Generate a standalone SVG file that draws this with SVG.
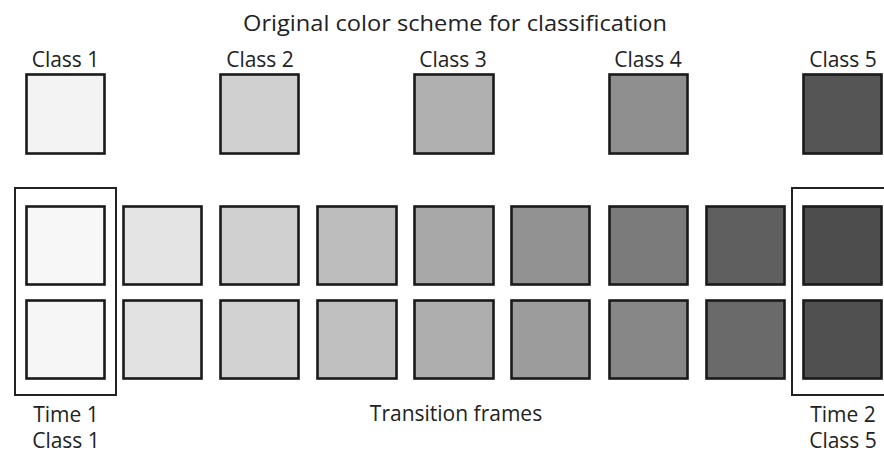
<svg xmlns="http://www.w3.org/2000/svg" width="884" height="454" viewBox="0 0 884 454">
<style>
  text { font-family: "Open Sans", "Liberation Sans", sans-serif; font-size: 21px; fill: #222; text-anchor: middle; }
  .sq { stroke: #1a1a1a; stroke-width: 2.6; }
  .frame { fill: none; stroke: #222; stroke-width: 2; }
</style>
<rect width="884" height="454" fill="#ffffff"/>
<text id="title" x="455" y="31" font-size="24" textLength="424" lengthAdjust="spacingAndGlyphs">Original color scheme for classification</text>

<g id="class1"><text x="65.5" y="67">Class 1</text><rect class="sq" x="26.5" y="74.5" width="78" height="79" fill="#f3f3f3"/></g>
<g id="class2"><text x="260" y="67">Class 2</text><rect class="sq" x="220.5" y="74.5" width="78" height="79" fill="#d0d0d0"/></g>
<g id="class3"><text x="453" y="67">Class 3</text><rect class="sq" x="414.5" y="74.5" width="79" height="79" fill="#b0b0b0"/></g>
<g id="class4"><text x="648" y="67">Class 4</text><rect class="sq" x="609.5" y="74.5" width="78" height="79" fill="#8f8f8f"/></g>
<g id="class5"><text x="843" y="67">Class 5</text><rect class="sq" x="803.5" y="74.5" width="78" height="79" fill="#555555"/></g>

<g id="time1">
  <rect class="frame" x="15" y="188" width="101" height="207"/>
  <rect class="sq" x="26.5" y="206.5" width="78" height="78" fill="#f7f7f7"/>
  <rect class="sq" x="26.5" y="300.5" width="78" height="78" fill="#f6f6f6"/>
  <text x="66" y="422">Time 1</text>
  <text x="66" y="448">Class 1</text>
</g>
<g id="frame2"><rect class="sq" x="123.5" y="206.5" width="78" height="78" fill="#e4e4e4"/><rect class="sq" x="123.5" y="300.5" width="78" height="78" fill="#e2e2e2"/></g>
<g id="frame3"><rect class="sq" x="220.5" y="206.5" width="78" height="78" fill="#d0d0d0"/><rect class="sq" x="220.5" y="300.5" width="78" height="78" fill="#d2d2d2"/></g>
<g id="frame4"><rect class="sq" x="317.5" y="206.5" width="79" height="78" fill="#bdbdbd"/><rect class="sq" x="317.5" y="300.5" width="79" height="78" fill="#c0c0c0"/></g>
<g id="frame5"><rect class="sq" x="414.5" y="206.5" width="79" height="78" fill="#a8a8a8"/><rect class="sq" x="414.5" y="300.5" width="79" height="78" fill="#aeaeae"/></g>
<g id="frame6"><rect class="sq" x="511.5" y="206.5" width="78" height="78" fill="#929292"/><rect class="sq" x="511.5" y="300.5" width="78" height="78" fill="#9c9c9c"/></g>
<g id="frame7"><rect class="sq" x="609.5" y="206.5" width="78" height="78" fill="#7b7b7b"/><rect class="sq" x="609.5" y="300.5" width="78" height="78" fill="#878787"/></g>
<g id="frame8"><rect class="sq" x="706.5" y="206.5" width="78" height="78" fill="#5f5f5f"/><rect class="sq" x="706.5" y="300.5" width="78" height="78" fill="#6a6a6a"/></g>
<g id="time2">
  <rect class="frame" x="792" y="188" width="110" height="207"/>
  <rect class="sq" x="803.5" y="206.5" width="78" height="78" fill="#4d4d4d"/>
  <rect class="sq" x="803.5" y="300.5" width="78" height="78" fill="#505050"/>
  <text x="843" y="422">Time 2</text>
  <text x="843" y="448">Class 5</text>
</g>
<text id="transition" x="456" y="421">Transition frames</text>
<g id="connectors"/>
</svg>
